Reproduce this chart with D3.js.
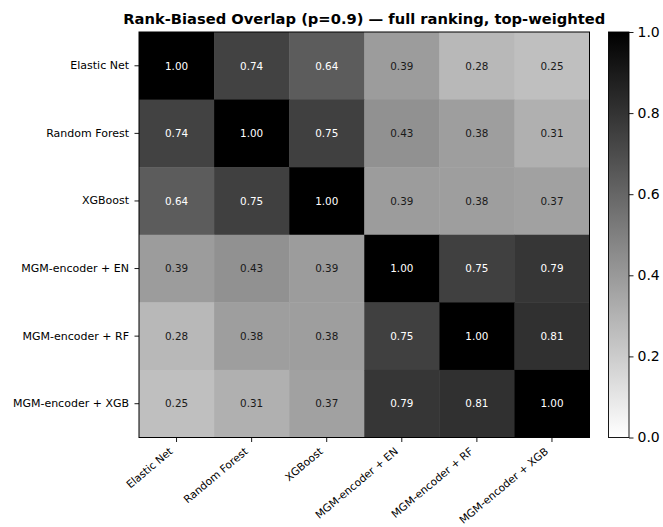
<!DOCTYPE html>
<html>
<head>
<meta charset="utf-8">
<script src="https://cdn.jsdelivr.net/npm/d3@7"></script>
<style>
  html, body { margin: 0; padding: 0; background: #fff; }
  svg { display: block; font-family: "DejaVu Sans", sans-serif; }
</style>
</head>
<body>
<svg id="chart" width="663" height="527"></svg>
<script>
// Models compared
const models = [
  "Elastic Net",
  "Random Forest",
  "XGBoost",
  "MGM-encoder + EN",
  "MGM-encoder + RF",
  "MGM-encoder + XGB"
];

// Pairwise rank-biased overlap, one row per model
const rowElasticNet   = [1.00, 0.74, 0.64, 0.39, 0.28, 0.25];
const rowRandomForest = [0.74, 1.00, 0.75, 0.43, 0.38, 0.31];
const rowXGBoost      = [0.64, 0.75, 1.00, 0.39, 0.38, 0.37];
const rowMgmEN        = [0.39, 0.43, 0.39, 1.00, 0.75, 0.79];
const rowMgmRF        = [0.28, 0.38, 0.38, 0.75, 1.00, 0.81];
const rowMgmXGB       = [0.25, 0.31, 0.37, 0.79, 0.81, 1.00];

const colorbarTicks = [0, 0.2, 0.4, 0.6, 0.8, 1.0];

const titleText = "Rank-Biased Overlap (p=0.9) \u2014 full ranking, top-weighted";

const matrix = [rowElasticNet, rowRandomForest, rowXGBoost, rowMgmEN, rowMgmRF, rowMgmXGB];
const cells = [];
matrix.forEach((row, i) => row.forEach((v, j) => cells.push({ row: models[i], col: models[j], value: v })));

// Reversed linear grey ramp: 0 -> white, 1 -> black
const color = d3.scaleLinear()
  .domain([0, 1])
  .range(["#ffffff", "#000000"])
  .interpolate(d3.interpolateRgb)
  .clamp(true);

const svg = d3.select("#chart");

const plot = { left: 139, top: 32, right: 589.5, bottom: 437.5 };
const x = d3.scaleBand().domain(models).range([plot.left, plot.right]);
const y = d3.scaleBand().domain(models).range([plot.top, plot.bottom]);

// Heatmap cells
svg.append("g")
  .selectAll("rect")
  .data(cells)
  .join("rect")
  .attr("x", d => x(d.col))
  .attr("y", d => y(d.row))
  .attr("width", x.bandwidth() + 0.5)
  .attr("height", y.bandwidth() + 0.5)
  .attr("fill", d => color(d.value));

// Value annotations
svg.append("g")
  .selectAll("text")
  .data(cells)
  .join("text")
  .attr("x", d => x(d.col) + x.bandwidth() / 2)
  .attr("y", d => y(d.row) + y.bandwidth() / 2)
  .attr("text-anchor", "middle")
  .attr("dy", "0.36em")
  .attr("font-size", "10.4px")
  .attr("fill", d => d.value > 0.5 ? "#ffffff" : "#1a1a1a")
  .text(d => d.value.toFixed(2));

// Frame
svg.append("rect")
  .attr("x", plot.left)
  .attr("y", plot.top)
  .attr("width", plot.right - plot.left)
  .attr("height", plot.bottom - plot.top)
  .attr("fill", "none")
  .attr("stroke", "#000")
  .attr("stroke-width", 1);

// Y axis
const yAxis = svg.append("g")
  .attr("transform", `translate(${plot.left},0)`)
  .call(d3.axisLeft(y).tickSize(4.5).tickPadding(5.5));
yAxis.select(".domain").remove();
yAxis.selectAll("text").attr("font-size", "11px").attr("fill", "#000").attr("font-family", "DejaVu Sans");
yAxis.selectAll("line").attr("stroke", "#000").attr("stroke-width", 0.9);

// X axis with rotated labels
const xAxis = svg.append("g")
  .attr("transform", `translate(0,${plot.bottom})`)
  .call(d3.axisBottom(x).tickSize(4.5));
xAxis.select(".domain").remove();
xAxis.selectAll("line").attr("stroke", "#000").attr("stroke-width", 0.9);
xAxis.selectAll("text")
  .attr("font-size", "10.6px")
  .attr("fill", "#000")
  .attr("font-family", "DejaVu Sans")
  .attr("text-anchor", "end")
  .attr("y", 0)
  .attr("dy", 0)
  .attr("transform", "translate(-3,15) rotate(-40)");

// Title
svg.append("text")
  .attr("x", (plot.left + plot.right) / 2)
  .attr("y", 24)
  .attr("text-anchor", "middle")
  .attr("font-size", "14.7px")
  .attr("font-weight", "bold")
  .attr("fill", "#000")
  .text(titleText);

// Colorbar
const cb = { left: 608.5, width: 20.5, top: 32, bottom: 437.5 };
const cbScale = d3.scaleLinear().domain([0, 1]).range([cb.bottom, cb.top]);

const grad = svg.append("defs").append("linearGradient")
  .attr("id", "cbGrad")
  .attr("x1", 0).attr("y1", 1).attr("x2", 0).attr("y2", 0);
grad.selectAll("stop")
  .data(d3.range(0, 1.0001, 0.1))
  .join("stop")
  .attr("offset", d => d)
  .attr("stop-color", d => color(d));

svg.append("rect")
  .attr("x", cb.left)
  .attr("y", cb.top)
  .attr("width", cb.width)
  .attr("height", cb.bottom - cb.top)
  .attr("fill", "url(#cbGrad)")
  .attr("stroke", "#000")
  .attr("stroke-width", 0.9);

const cbAxis = svg.append("g")
  .attr("transform", `translate(${cb.left + cb.width},0)`)
  .call(d3.axisRight(cbScale).tickValues(colorbarTicks).tickFormat(d3.format(".1f")).tickSize(4.5).tickPadding(4));
cbAxis.select(".domain").remove();
cbAxis.selectAll("line").attr("stroke", "#000").attr("stroke-width", 0.9);
cbAxis.selectAll("text").attr("font-size", "14px").attr("fill", "#000").attr("font-family", "DejaVu Sans");
</script>
</body>
</html>
